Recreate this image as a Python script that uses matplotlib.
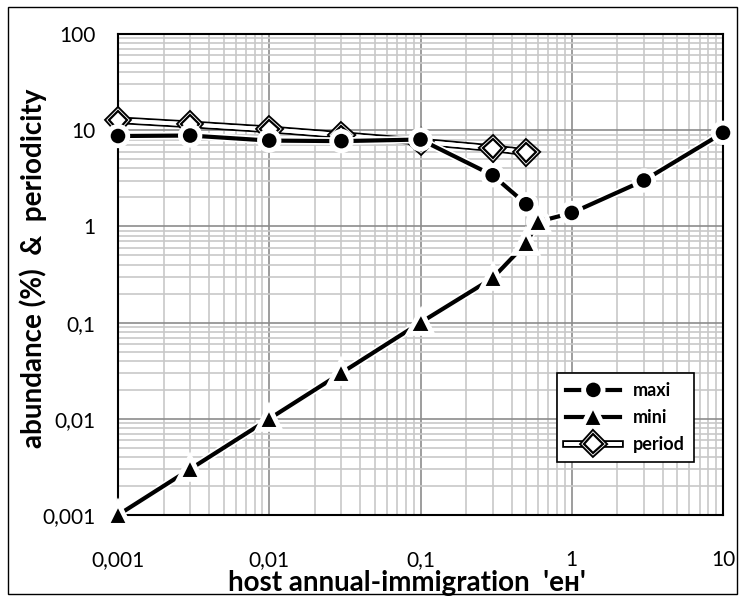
import matplotlib
matplotlib.use("Agg")
import matplotlib.pyplot as plt
import matplotlib.patheffects as pe
from matplotlib.ticker import LogLocator, FixedLocator, NullFormatter
from matplotlib.patches import Rectangle

plt.rcParams['font.family'] = ['Lato', 'DejaVu Sans']

# data
maxi_x = [0.001, 0.003, 0.01, 0.03, 0.1, 0.3, 0.5, 0.6, 1, 3, 10]
maxi_y = [8.7, 8.8, 7.8, 7.7, 8.0, 3.4, 1.7, 1.12, 1.38, 3.0, 9.4]
mini_x = [0.001, 0.003, 0.01, 0.03, 0.1, 0.3, 0.5, 0.6]
mini_y = [0.001, 0.003, 0.01, 0.03, 0.1, 0.29, 0.67, 1.12]
period_x = [0.001, 0.003, 0.01, 0.03, 0.1, 0.3, 0.5]
period_y = [12.7, 11.5, 10.2, 8.9, 7.6, 6.5, 5.9]
tick_vals = [0.001, 0.01, 0.1, 1, 10, 100]
tick_labels = ['0,001', '0,01', '0,1', '1', '10', '100']

fig = plt.figure(figsize=(7.45, 5.98), dpi=100)
fig.patches.append(Rectangle((8/745, 4/598), 729/745, 587/598, transform=fig.transFigure,
                             fill=False, edgecolor='black', linewidth=1.0))
ax = fig.add_axes([118/745, 1-515/598, 605/745, 481/598])
ax.set_xscale('log')
ax.set_yscale('log')
ax.set_xlim(0.001, 10)
ax.set_ylim(0.001, 100)

ax.xaxis.set_major_locator(FixedLocator(tick_vals[:5]))
ax.set_xticklabels(tick_labels[:5])
ax.yaxis.set_major_locator(FixedLocator(tick_vals))
ax.set_yticklabels(tick_labels)
ax.xaxis.set_minor_locator(LogLocator(base=10, subs=range(2, 10), numticks=20))
ax.yaxis.set_minor_locator(LogLocator(base=10, subs=range(2, 10), numticks=20))
ax.xaxis.set_minor_formatter(NullFormatter())
ax.yaxis.set_minor_formatter(NullFormatter())
ax.tick_params(which='both', length=0)
ax.tick_params(axis='x', pad=25, labelsize=15)
ax.tick_params(axis='y', pad=16, labelsize=15)
ax.grid(which='minor', color='#c8c8c8', linewidth=1.2)
ax.grid(which='major', color='#8c8c8c', linewidth=1.2)
ax.set_axisbelow(True)
for s in ax.spines.values():
    s.set_linewidth(1.5)
    s.set_color('black')

black_fx = [pe.Stroke(linewidth=5.5, foreground='white'), pe.Normal()]
white_fx = [pe.Stroke(linewidth=5.5, foreground='black'), pe.Stroke(linewidth=2.8, foreground='white'), pe.Normal()]

ax.plot(period_x, period_y, color='white', lw=2.8, marker='D', ms=9.5, mfc='white', mec='black',
        mew=1.6, path_effects=white_fx, label='period', zorder=3, clip_on=False)
ax.plot(maxi_x, maxi_y, color='black', lw=3, marker='o', ms=12, mfc='black', mec='white',
        mew=1.5, path_effects=black_fx, label='maxi', zorder=4, clip_on=False)
ax.plot(mini_x, mini_y, color='black', lw=3, marker='^', ms=13, mfc='black', mec='white',
        mew=1.5, path_effects=black_fx, label='mini', zorder=5, clip_on=False)

h, l = ax.get_legend_handles_labels()
order = [1, 2, 0]
leg = ax.legend([h[i] for i in order], [l[i] for i in order], loc='lower left',
                bbox_to_anchor=(0.726, 0.110), borderaxespad=0, fancybox=False,
                edgecolor='black', framealpha=1, prop={'weight': 'bold', 'size': 13},
                handlelength=3.0, handletextpad=0.7, labelspacing=0.55, borderpad=0.5)
leg.get_frame().set_linewidth(1.2)

fig.text(407/745, 1-591/598, "host annual-immigration  'eн'", ha='center', va='baseline',
         fontsize=20, fontweight='bold')
fig.text(33/745, 1-268/598, "abundance (%)  &  periodicity", ha='center', va='center',
         rotation=90, fontsize=20, fontweight='bold')

fig.savefig('out.png', dpi=100)
